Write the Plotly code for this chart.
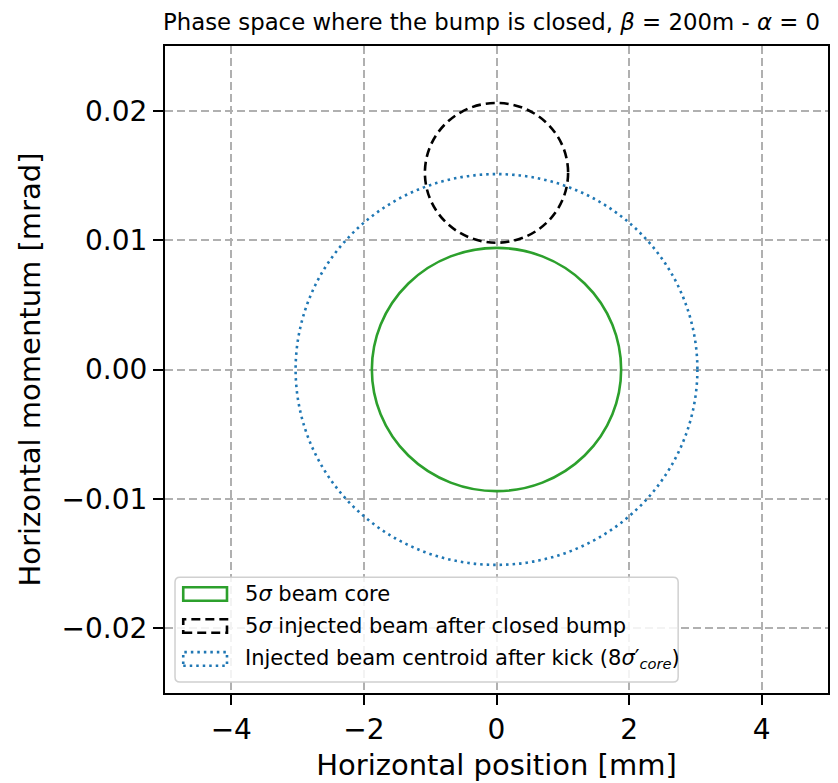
import plotly.graph_objects as go

# Ellipse parameters: centre (x, y) and semi-axes (x, y)
names = ["5<i>σ</i> beam core",
         "5<i>σ</i> injected beam after closed bump",
         "Injected beam centroid after kick (8<i>σ</i>′<sub><i>core</i></sub>)"]
center_x = [0.0, 0.0, 0.0]
center_y = [0.0, 0.0152, 0.0]
radius_x = [1.88, 1.08, 3.03]
radius_y = [0.0094, 0.0054, 0.0151]
colors = ["#2ca02c", "black", "#1f77b4"]
dashes = ["solid", "9px,5px", "2.5px,4px"]

x_ticks = [-4, -2, 0, 2, 4]
y_ticks = [-0.02, -0.01, 0.0, 0.01, 0.02]

FONT = "DejaVu Sans"

fig = go.Figure()
fig.add_trace(go.Scatter(x=[None], y=[None], showlegend=False))

for i in range(3):
    fig.add_shape(type="circle", xref="x", yref="y",
                  x0=center_x[i] - radius_x[i], x1=center_x[i] + radius_x[i],
                  y0=center_y[i] - radius_y[i], y1=center_y[i] + radius_y[i],
                  line=dict(color=colors[i], width=2.6, dash=dashes[i]),
                  layer="above")

# ---- legend (matplotlib-style rounded box with rectangle patches) ----
bx0, bx1, by0, by1 = 0.0151, 0.774, 0.017, 0.179
rx, ry = 0.0075, 0.0077
legend_path = (f"M {bx0+rx},{by0} L {bx1-rx},{by0} Q {bx1},{by0} {bx1},{by0+ry} "
               f"L {bx1},{by1-ry} Q {bx1},{by1} {bx1-rx},{by1} "
               f"L {bx0+rx},{by1} Q {bx0},{by1} {bx0},{by1-ry} "
               f"L {bx0},{by0+ry} Q {bx0},{by0} {bx0+rx},{by0} Z")
fig.add_shape(type="path", xref="paper", yref="paper", path=legend_path,
              line=dict(color="#d0d0d0", width=1.5), fillcolor="rgba(255,255,255,0.85)",
              layer="above")
row_y = [0.153, 0.1036, 0.0526]
for i in range(3):
    fig.add_shape(type="rect", xref="paper", yref="paper",
                  x0=0.0275, x1=0.0935, y0=row_y[i] - 0.0105, y1=row_y[i] + 0.0105,
                  line=dict(color=colors[i], width=2.6, dash=dashes[i]),
                  fillcolor="rgba(0,0,0,0)", layer="above")
    fig.add_annotation(xref="paper", yref="paper", x=0.1176, y=row_y[i],
                       xanchor="left", yanchor="middle", showarrow=False,
                       text=names[i], font=dict(family=FONT, size=21, color="black"))

axis_common = dict(showline=True, linecolor="black", linewidth=2, mirror=True,
                   ticks="outside", ticklen=10, tickwidth=2, tickcolor="black",
                   showgrid=True, gridcolor="#b0b0b0", gridwidth=2, griddash="8px,4px",
                   zeroline=False, tickfont=dict(family=FONT, size=28, color="black"))

fig.update_xaxes(range=[-5, 5], tickvals=x_ticks,
                 title=dict(text="Horizontal position [mm]",
                            font=dict(family=FONT, size=29, color="black"), standoff=10),
                 **axis_common)
fig.update_yaxes(range=[-0.025, 0.025], tickvals=y_ticks, tickformat=".2f",
                 title=dict(text="Horizontal momentum [mrad]",
                            font=dict(family=FONT, size=29, color="black"), standoff=12),
                 **axis_common)

fig.update_layout(
    width=838, height=783,
    margin=dict(l=157, r=18, t=38, b=98),
    paper_bgcolor="white", plot_bgcolor="white",
    title=dict(text="Phase space where the bump is closed, <i>β</i> = 200m - <i>α</i> = 0",
               x=0.577, xanchor="center", y=0.982, yanchor="middle",
               font=dict(family=FONT, size=22.8, color="black")),
    showlegend=False,
)

fig.write_html("out.html")
